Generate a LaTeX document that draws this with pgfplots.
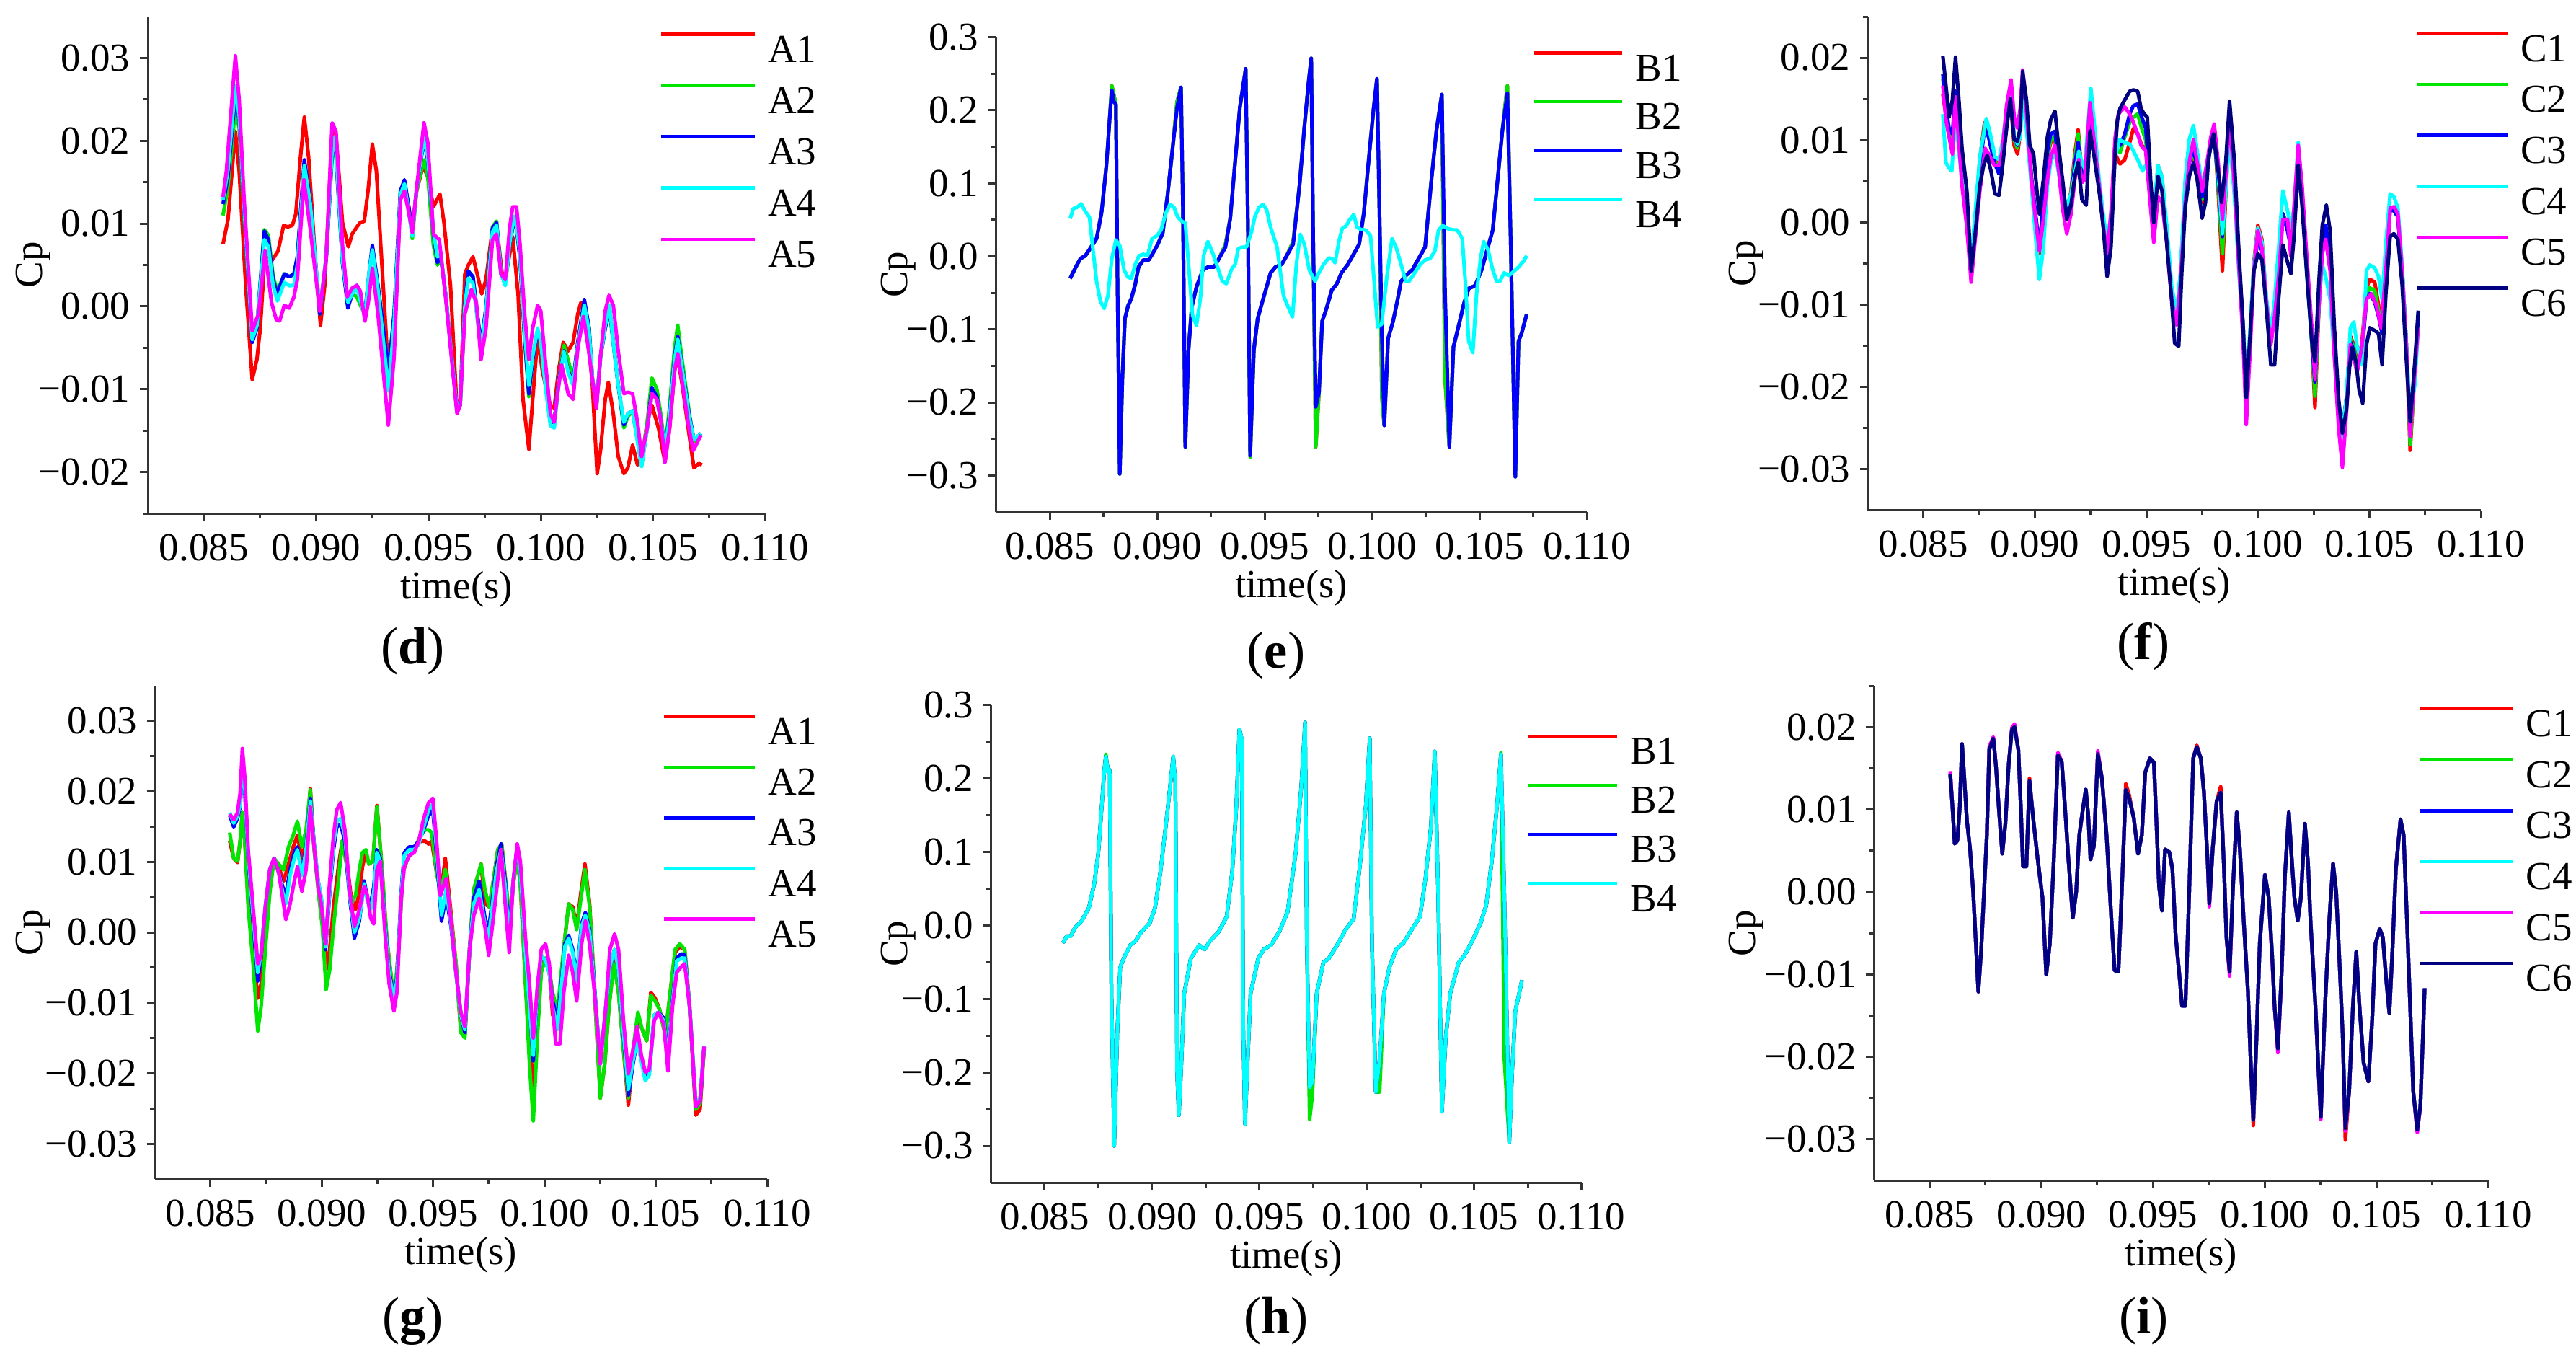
\documentclass[border=0pt]{standalone}
\usepackage{fontspec}
\setmainfont{Liberation Serif}
\usepackage{pgfplots}
\usepackage{pgfplotstable}
\pgfplotsset{compat=1.18}
\definecolor{cR}{RGB}{255,0,0}
\definecolor{cG}{RGB}{0,230,0}
\definecolor{cB}{RGB}{0,0,255}
\definecolor{cC}{RGB}{0,255,255}
\definecolor{cM}{RGB}{255,0,255}
\definecolor{cN}{RGB}{0,0,128}

% ---------------- panel (d) ----------------
\pgfplotstableread{
t v
0.08585 0.00754
0.08607 0.01047
0.08640 0.02114
0.08657 0.01632
0.08686 0.00254
0.08715 -0.00882
0.08736 -0.00641
0.08751 -0.00262
0.08772 0.00668
0.08801 0.00547
0.08830 0.00668
0.08855 0.00978
0.08873 0.00960
0.08894 0.00978
0.08909 0.01115
0.08930 0.01804
0.08947 0.02286
0.08966 0.01804
0.08995 0.00599
0.09019 -0.00228
0.09038 0.00254
0.09071 0.02114
0.09088 0.02080
0.09117 0.01012
0.09143 0.00719
0.09160 0.00874
0.09181 0.00960
0.09196 0.01012
0.09214 0.01029
0.09232 0.01425
0.09250 0.01959
0.09268 0.01632
0.09289 0.00668
0.09318 -0.00641
0.09347 -0.00434
0.09375 0.01322
0.09393 0.01494
0.09411 0.01219
0.09428 0.00943
0.09447 0.01391
0.09476 0.01701
0.09497 0.01563
0.09522 0.01202
0.09551 0.01356
0.09569 0.01012
0.09598 0.00254
0.09627 -0.01261
0.09641 -0.01192
0.09662 0.00392
0.09677 0.00495
0.09698 0.00599
0.09720 0.00358
0.09737 0.00151
0.09756 0.00323
0.09785 0.00943
0.09803 0.00978
0.09828 0.00392
0.09846 0.00392
0.09875 0.00840
0.09899 0.00151
0.09921 -0.01123
0.09947 -0.01726
0.09964 -0.01123
0.09986 -0.00366
0.10007 -0.00779
0.10029 -0.01054
0.10043 -0.01192
0.10060 -0.01227
0.10079 -0.00779
0.10100 -0.00434
0.10122 -0.00538
0.10144 -0.00434
0.10165 -0.00090
0.10179 0.00048
0.10201 -0.00090
0.10230 -0.00951
0.10251 -0.02019
0.10266 -0.01743
0.10287 -0.01123
0.10301 -0.00917
0.10323 -0.01295
0.10345 -0.01812
0.10370 -0.02019
0.10388 -0.01950
0.10409 -0.01674
0.10431 -0.01915
0.10452 -0.01812
0.10474 -0.01399
0.10495 -0.01192
0.10524 -0.01468
0.10553 -0.01881
0.10574 -0.01468
0.10596 -0.00779
0.10610 -0.00607
0.10632 -0.00985
0.10660 -0.01536
0.10682 -0.01950
0.10704 -0.01898
0.10718 -0.01915
}\dAone

\pgfplotstableread{
t a2 a3 a4
0.08585 0.01098 0.01236 0.01288
0.08607 0.01450 0.01563 0.01650
0.08640 0.02390 0.02562 0.02665
0.08657 0.02150 0.02252 0.02300
0.08679 0.01100 0.01150 0.01200
0.08715 -0.00400 -0.00434 -0.00400
0.08736 -0.00230 -0.00262 -0.00230
0.08769 0.00926 0.00909 0.00805
0.08787 0.00857 0.00805 0.00720
0.08808 0.00358 0.00323 0.00250
0.08827 0.00186 0.00151 0.00065
0.08858 0.00392 0.00392 0.00290
0.08880 0.00358 0.00358 0.00250
0.08901 0.00392 0.00392 0.00254
0.08916 0.00599 0.00599 0.00500
0.08947 0.01700 0.01770 0.01700
0.08973 0.01250 0.01288 0.01250
0.09016 -0.00090 -0.00090 -0.00050
0.09045 0.00599 0.00599 0.00620
0.09074 0.01950 0.02011 0.02045
0.09088 0.01800 0.01839 0.01880
0.09117 0.00530 0.00530 0.00560
0.09141 0.00030 -0.00021 0.00048
0.09160 0.00151 0.00151 0.00151
0.09181 0.00117 0.00254 0.00220
0.09199 0.00000 0.00048 0.00048
0.09217 -0.00090 -0.00090 -0.00120
0.09235 0.00350 0.00392 0.00392
0.09250 0.00700 0.00737 0.00680
0.09275 0.00254 0.00254 0.00200
0.09322 -0.00779 -0.00779 -0.01020
0.09347 -0.00090 -0.00090 -0.00200
0.09375 0.01391 0.01391 0.01350
0.09393 0.01500 0.01529 0.01480
0.09411 0.01219 0.01219 0.01150
0.09428 0.00820 0.00874 0.00850
0.09447 0.01400 0.01425 0.01425
0.09480 0.01770 0.02011 0.02045
0.09497 0.01563 0.01770 0.01800
0.09522 0.00737 0.00874 0.00900
0.09540 0.00500 0.00530 0.00599
0.09555 0.00599 0.00599 0.00630
0.09576 0.00151 0.00151 0.00151
0.09627 -0.01261 -0.01261 -0.01261
0.09641 -0.01192 -0.01192 -0.01192
0.09662 0.00048 0.00048 0.00000
0.09677 0.00427 0.00427 0.00340
0.09698 0.00358 0.00358 0.00280
0.09734 -0.00469 -0.00469 -0.00520
0.09756 -0.00021 -0.00021 -0.00060
0.09785 0.00960 0.00943 0.00900
0.09803 0.01030 0.01012 0.00980
0.09823 0.00392 0.00392 0.00392
0.09842 0.00289 0.00289 0.00250
0.09861 0.00737 0.00737 0.00760
0.09881 0.01030 0.01064 0.01090
0.09892 0.00943 0.00943 0.00970
0.09907 0.00599 0.00599 0.00650
0.09928 -0.00400 -0.00366 -0.00300
0.09947 -0.01089 -0.01054 -0.00951
0.09964 -0.00641 -0.00641 -0.00600
0.09986 -0.00297 -0.00297 -0.00262
0.10000 -0.00434 -0.00434 -0.00434
0.10022 -0.00951 -0.00951 -0.01000
0.10043 -0.01399 -0.01399 -0.01440
0.10060 -0.01399 -0.01399 -0.01468
0.10079 -0.00917 -0.00917 -0.00950
0.10103 -0.00469 -0.00538 -0.00550
0.10122 -0.00650 -0.00779 -0.00800
0.10144 -0.00880 -0.00917 -0.00950
0.10165 -0.00434 -0.00434 -0.00470
0.10194 0.00048 0.00082 0.00013
0.10215 -0.00262 -0.00262 -0.00300
0.10230 -0.00882 -0.00882 -0.00882
0.10248 -0.01192 -0.01192 -0.01192
0.10266 -0.00607 -0.00607 -0.00607
0.10287 -0.00262 -0.00262 -0.00230
0.10306 -0.00050 -0.00021 0.00013
0.10323 -0.00434 -0.00434 -0.00434
0.10345 -0.00951 -0.00951 -0.00951
0.10370 -0.01468 -0.01433 -0.01399
0.10388 -0.01330 -0.01295 -0.01295
0.10409 -0.01261 -0.01261 -0.01261
0.10431 -0.01605 -0.01605 -0.01640
0.10449 -0.01881 -0.01915 -0.01933
0.10474 -0.01399 -0.01468 -0.01468
0.10495 -0.00864 -0.00985 -0.01054
0.10517 -0.01000 -0.01089 -0.01123
0.10536 -0.01330 -0.01399 -0.01399
0.10553 -0.01743 -0.01743 -0.01743
0.10574 -0.01200 -0.01295 -0.01330
0.10596 -0.00500 -0.00607 -0.00650
0.10610 -0.00228 -0.00366 -0.00400
0.10632 -0.00700 -0.00779 -0.00800
0.10660 -0.01261 -0.01295 -0.01330
0.10682 -0.01640 -0.01605 -0.01605
0.10714 -0.01536 -0.01536 -0.01536
}\dGrp

\pgfplotstableread{
t v
0.08585 0.01322
0.08600 0.01632
0.08640 0.03027
0.08657 0.02493
0.08679 0.01288
0.08715 -0.00297
0.08743 -0.00090
0.08772 0.00668
0.08801 0.00048
0.08822 -0.00159
0.08837 -0.00176
0.08858 0.00013
0.08880 -0.00021
0.08901 0.00117
0.08916 0.00323
0.08945 0.01529
0.08973 0.00943
0.09016 -0.00056
0.09045 0.00599
0.09071 0.02217
0.09088 0.02114
0.09117 0.00737
0.09138 0.00117
0.09160 0.00220
0.09181 0.00254
0.09196 0.00186
0.09217 -0.00176
0.09232 0.00048
0.09250 0.00461
0.09275 -0.00090
0.09321 -0.01433
0.09347 -0.00607
0.09375 0.01288
0.09393 0.01391
0.09411 0.01150
0.09428 0.00892
0.09447 0.01425
0.09480 0.02217
0.09497 0.01976
0.09522 0.00874
0.09548 0.00805
0.09576 0.00117
0.09627 -0.01295
0.09641 -0.01192
0.09662 -0.00090
0.09691 0.00203
0.09713 0.00048
0.09734 -0.00641
0.09756 -0.00262
0.09785 0.00805
0.09803 0.00874
0.09823 0.00392
0.09842 0.00323
0.09861 0.00943
0.09875 0.01202
0.09892 0.01202
0.09907 0.00771
0.09928 -0.00090
0.09947 -0.00641
0.09964 -0.00262
0.09986 0.00013
0.10000 -0.00056
0.10022 -0.00710
0.10043 -0.01295
0.10060 -0.01399
0.10075 -0.01054
0.10093 -0.00710
0.10122 -0.01054
0.10144 -0.01123
0.10165 -0.00503
0.10190 -0.00124
0.10208 -0.00434
0.10230 -0.00882
0.10248 -0.01227
0.10266 -0.00607
0.10287 -0.00056
0.10304 0.00134
0.10323 0.00013
0.10345 -0.00538
0.10370 -0.01054
0.10388 -0.01037
0.10409 -0.01054
0.10431 -0.01399
0.10449 -0.01812
0.10474 -0.01468
0.10495 -0.01054
0.10517 -0.01123
0.10536 -0.01399
0.10553 -0.01881
0.10574 -0.01468
0.10596 -0.00779
0.10610 -0.00572
0.10632 -0.00951
0.10660 -0.01468
0.10679 -0.01743
0.10704 -0.01605
0.10714 -0.01554
}\dAfive

% ---------------- panel (e) ----------------
\pgfplotstableread{
t b2 b3
0.08595 -0.0304 -0.0304
0.08621 -0.0148 -0.0148
0.08643 -0.0031 -0.0031
0.08666 0.0008 0.0008
0.08688 0.0106 0.0106
0.08718 0.0243 0.0243
0.08741 0.0594 0.0594
0.08763 0.1219 0.1219
0.08778 0.1844 0.1844
0.08789 0.2332 0.2273
0.08799 0.2200 0.2117
0.08808 0.2078 0.2078
0.08816 -0.0500 -0.0500
0.08826 -0.2979 -0.2979
0.08838 -0.1671 -0.1671
0.08850 -0.0851 -0.0851
0.08865 -0.0675 -0.0675
0.08880 -0.0578 -0.0578
0.08898 -0.0383 -0.0383
0.08913 -0.0148 -0.0148
0.08936 -0.0050 -0.0050
0.08961 -0.0050 -0.0050
0.08981 0.0047 0.0047
0.09003 0.0164 0.0164
0.09026 0.0321 0.0321
0.09048 0.0828 0.0828
0.09071 0.1453 0.1453
0.09093 0.2120 0.2039
0.09111 0.2312 0.2312
0.09120 0.0672 0.0672
0.09131 -0.2608 -0.2608
0.09146 -0.1281 -0.1281
0.09161 -0.0695 -0.0695
0.09183 -0.0421 -0.0421
0.09213 -0.0187 -0.0187
0.09236 -0.0148 -0.0148
0.09265 -0.0148 -0.0148
0.09288 -0.0031 -0.0031
0.09318 0.0160 0.0125
0.09340 0.0516 0.0516
0.09363 0.1297 0.1297
0.09385 0.2039 0.2039
0.09412 0.2566 0.2566
0.09423 0.0282 0.0282
0.09433 -0.2745 -0.2725
0.09450 -0.1281 -0.1281
0.09468 -0.0851 -0.0851
0.09490 -0.0617 -0.0617
0.09513 -0.0383 -0.0383
0.09528 -0.0226 -0.0226
0.09550 -0.0148 -0.0148
0.09580 -0.0109 -0.0109
0.09603 0.0008 0.0008
0.09633 0.0200 0.0164
0.09663 0.0984 0.0984
0.09685 0.1765 0.1765
0.09705 0.2390 0.2390
0.09717 0.2710 0.2710
0.09726 0.0282 0.0282
0.09738 -0.2608 -0.2062
0.09753 -0.1866 -0.1866
0.09768 -0.0890 -0.0890
0.09790 -0.0695 -0.0695
0.09813 -0.0460 -0.0460
0.09835 -0.0383 -0.0383
0.09858 -0.0226 -0.0226
0.09888 -0.0109 -0.0109
0.09918 0.0047 0.0047
0.09940 0.0164 0.0164
0.09962 0.0594 0.0594
0.09985 0.1336 0.1336
0.10008 0.2039 0.2039
0.10023 0.2429 0.2429
0.10038 0.0086 0.0086
0.10046 -0.1925 -0.1100
0.10057 -0.2315 -0.2315
0.10075 -0.1124 -0.1124
0.10098 -0.0890 -0.0890
0.10120 -0.0578 -0.0578
0.10135 -0.0343 -0.0343
0.10157 -0.0265 -0.0265
0.10187 -0.0187 -0.0187
0.10217 -0.0031 -0.0031
0.10247 0.0125 0.0125
0.10277 0.1063 0.1063
0.10300 0.1726 0.1726
0.10325 0.2214 0.2214
0.10340 -0.1671 -0.0500
0.10360 -0.2608 -0.2608
0.10379 -0.1241 -0.1241
0.10405 -0.0929 -0.0929
0.10427 -0.0656 -0.0656
0.10450 -0.0441 -0.0441
0.10480 -0.0402 -0.0402
0.10510 -0.0187 -0.0187
0.10532 0.0047 0.0047
0.10562 0.0360 0.0360
0.10585 0.1063 0.1063
0.10607 0.1726 0.1726
0.10630 0.2332 0.2234
0.10645 0.0282 0.0282
0.10667 -0.3018 -0.3018
0.10682 -0.1163 -0.1163
0.10697 -0.1046 -0.1046
0.10720 -0.0792 -0.0792
}\eGrp

\pgfplotstableread{
t v
0.08595 0.0516
0.08610 0.0653
0.08628 0.0672
0.08646 0.0719
0.08666 0.0613
0.08685 0.0535
0.08703 0.0047
0.08718 -0.0343
0.08736 -0.0617
0.08753 -0.0714
0.08771 -0.0539
0.08789 -0.0031
0.08808 0.0223
0.08826 0.0145
0.08846 -0.0187
0.08864 -0.0285
0.08880 -0.0304
0.08898 -0.0109
0.08916 0.0008
0.08936 0.0028
0.08955 0.0008
0.08976 0.0243
0.09000 0.0282
0.09018 0.0360
0.09041 0.0594
0.09060 0.0711
0.09078 0.0672
0.09096 0.0535
0.09116 0.0477
0.09131 0.0457
0.09146 -0.0109
0.09165 -0.0812
0.09183 -0.0949
0.09201 -0.0578
0.09216 0.0008
0.09236 0.0203
0.09258 0.0047
0.09281 -0.0148
0.09303 -0.0343
0.09322 -0.0375
0.09345 -0.0187
0.09363 -0.0109
0.09378 0.0106
0.09396 0.0125
0.09415 0.0125
0.09438 0.0321
0.09456 0.0555
0.09475 0.0672
0.09493 0.0711
0.09510 0.0633
0.09528 0.0399
0.09558 0.0125
0.09588 -0.0539
0.09610 -0.0695
0.09630 -0.0832
0.09648 -0.0109
0.09666 0.0301
0.09685 0.0164
0.09708 -0.0187
0.09735 -0.0343
0.09753 -0.0226
0.09775 -0.0109
0.09798 -0.0023
0.09813 -0.0031
0.09828 -0.0089
0.09846 0.0203
0.09861 0.0379
0.09880 0.0418
0.09895 0.0496
0.09915 0.0574
0.09930 0.0399
0.09947 0.0368
0.09970 0.0360
0.09993 0.0282
0.10011 -0.0383
0.10026 -0.0968
0.10045 -0.0929
0.10068 -0.0304
0.10093 0.0243
0.10112 0.0125
0.10135 -0.0109
0.10157 -0.0343
0.10172 -0.0343
0.10199 -0.0226
0.10225 -0.0109
0.10247 -0.0050
0.10270 -0.0031
0.10292 0.0067
0.10310 0.0360
0.10330 0.0418
0.10352 0.0379
0.10379 0.0360
0.10397 0.0360
0.10420 0.0243
0.10435 -0.0383
0.10450 -0.1163
0.10469 -0.1320
0.10487 -0.0500
0.10505 -0.0031
0.10520 0.0203
0.10540 0.0086
0.10562 -0.0187
0.10580 -0.0343
0.10595 -0.0343
0.10615 -0.0226
0.10637 -0.0265
0.10660 -0.0207
0.10682 -0.0148
0.10705 -0.0070
0.10720 0.0008
}\eBfour

% ---------------- panel (f) ----------------
\pgfplotstableread{
t c1 c2 c3
0.08587 0.01557 0.01750 0.01800
0.08601 0.01300 0.01350 0.01384
0.08615 0.01073 0.01100 0.01142
0.08630 0.00969 0.01000 0.01073
0.08644 0.01523 0.01550 0.01592
0.08659 0.01038 0.01073 0.01107
0.08673 0.00553 0.00553 0.00553
0.08695 0.00034 0.00034 0.00034
0.08714 -0.00520 -0.00520 -0.00520
0.08731 0.00000 0.00000 -0.00036
0.08753 0.00761 0.00726 0.00657
0.08774 0.01211 0.01176 0.01142
0.08792 0.01142 0.01107 0.01038
0.08818 0.00795 0.00761 0.00726
0.08839 0.00657 0.00622 0.00588
0.08854 0.00830 0.00830 0.00795
0.08873 0.01280 0.01280 0.01280
0.08890 0.01488 0.01523 0.01523
0.08907 0.00934 0.01000 0.01038
0.08922 0.00830 0.00899 0.00934
0.08934 0.01073 0.01142 0.01142
0.08945 0.01765 0.01765 0.01765
0.08962 0.01315 0.01315 0.01315
0.08984 0.00553 0.00553 0.00553
0.09003 0.00034 0.00068 0.00103
0.09020 -0.00382 -0.00347 -0.00313
0.09038 0.00241 0.00241 0.00241
0.09056 0.00795 0.00830 0.00865
0.09071 0.00969 0.01000 0.01073
0.09090 0.01000 0.01038 0.01107
0.09107 0.00622 0.00657 0.00692
0.09124 0.00241 0.00276 0.00311
0.09143 0.00068 0.00068 0.00068
0.09162 0.00380 0.00345 0.00311
0.09179 0.00830 0.00761 0.00692
0.09194 0.01124 0.01073 0.00969
0.09211 0.00553 0.00553 0.00553
0.09223 0.00518 0.00518 0.00518
0.09247 0.01315 0.01315 0.01315
0.09266 0.00969 0.00969 0.00969
0.09288 0.00449 0.00449 0.00449
0.09306 -0.00036 -0.00036 -0.00036
0.09324 -0.00451 -0.00451 -0.00451
0.09341 0.00034 0.00034 0.00034
0.09360 0.00830 0.00900 0.00969
0.09382 0.00709 0.00847 0.00934
0.09403 0.00761 0.01038 0.01073
0.09425 0.00969 0.01211 0.01315
0.09442 0.01142 0.01280 0.01419
0.09461 0.01073 0.01315 0.01436
0.09479 0.00934 0.01142 0.01280
0.09497 0.00900 0.01000 0.01142
0.09519 0.00380 0.00380 0.00380
0.09533 0.00034 0.00034 0.00034
0.09552 0.00692 0.00657 0.00622
0.09570 0.00553 0.00518 0.00484
0.09591 -0.00105 -0.00140 -0.00174
0.09613 -0.00867 -0.00867 -0.00867
0.09635 -0.01178 -0.01178 -0.01178
0.09653 -0.00659 -0.00659 -0.00659
0.09674 0.00449 0.00414 0.00380
0.09692 0.00830 0.00795 0.00726
0.09711 0.00795 0.00830 0.00899
0.09728 0.00588 0.00622 0.00657
0.09750 0.00241 0.00276 0.00311
0.09772 0.00588 0.00622 0.00657
0.09789 0.01000 0.00969 0.00934
0.09804 0.01107 0.01073 0.01038
0.09822 0.00380 0.00449 0.00518
0.09841 -0.00590 -0.00382 -0.00174
0.09856 0.00345 0.00414 0.00484
0.09873 0.01280 0.01280 0.01280
0.09895 0.00553 0.00553 0.00553
0.09916 -0.00520 -0.00520 -0.00520
0.09934 -0.01282 -0.01282 -0.01282
0.09948 -0.02182 -0.02182 -0.02182
0.09967 -0.01282 -0.01282 -0.01282
0.09982 -0.00486 -0.00520 -0.00555
0.10000 -0.00036 -0.00140 -0.00209
0.10018 -0.00209 -0.00313 -0.00347
0.10039 -0.01005 -0.01005 -0.01005
0.10058 -0.01455 -0.01455 -0.01455
0.10075 -0.01109 -0.01109 -0.01109
0.10093 -0.00451 -0.00451 -0.00451
0.10112 0.00103 0.00103 0.00103
0.10133 -0.00036 -0.00070 -0.00105
0.10148 -0.00244 -0.00278 -0.00313
0.10162 0.00034 0.00034 0.00034
0.10181 0.00795 0.00795 0.00795
0.10198 0.00311 0.00311 0.00311
0.10220 -0.00590 -0.00590 -0.00590
0.10242 -0.01455 -0.01455 -0.01455
0.10256 -0.02252 -0.02113 -0.01940
0.10275 -0.00936 -0.00936 -0.00936
0.10289 -0.00313 -0.00313 -0.00313
0.10304 -0.00105 -0.00070 -0.00036
0.10324 -0.00382 -0.00382 -0.00382
0.10343 -0.01455 -0.01455 -0.01455
0.10362 -0.02252 -0.02252 -0.02252
0.10379 -0.02529 -0.02529 -0.02529
0.10397 -0.02148 -0.02148 -0.02148
0.10415 -0.01386 -0.01420 -0.01455
0.10430 -0.01490 -0.01524 -0.01559
0.10444 -0.01697 -0.01732 -0.01801
0.10466 -0.01490 -0.01559 -0.01628
0.10487 -0.00798 -0.00867 -0.00936
0.10502 -0.00694 -0.00798 -0.00867
0.10524 -0.00728 -0.00832 -0.00971
0.10541 -0.01005 -0.01074 -0.01143
0.10557 -0.01351 -0.01351 -0.01351
0.10574 -0.00590 -0.00590 -0.00590
0.10593 0.00172 0.00172 0.00172
0.10610 0.00138 0.00138 0.00138
0.10628 0.00068 0.00068 0.00068
0.10647 -0.00590 -0.00590 -0.00590
0.10665 -0.01455 -0.01455 -0.01455
0.10683 -0.02771 -0.02702 -0.02529
0.10704 -0.01801 -0.01801 -0.01801
0.10719 -0.01143 -0.01143 -0.01143
}\fGrp

\pgfplotstableread{
t v
0.08587 0.01315
0.08601 0.00726
0.08615 0.00657
0.08627 0.00622
0.08644 0.01280
0.08659 0.00865
0.08673 0.00518
0.08695 0.00103
0.08714 -0.00451
0.08731 0.00068
0.08753 0.00795
0.08782 0.01263
0.08800 0.01073
0.08821 0.00795
0.08839 0.00761
0.08854 0.00969
0.08873 0.01349
0.08890 0.01592
0.08907 0.01038
0.08922 0.00951
0.08934 0.01038
0.08945 0.01488
0.08962 0.01142
0.08984 0.00449
0.09003 -0.00174
0.09020 -0.00694
0.09038 -0.00313
0.09056 0.00449
0.09071 0.00726
0.09090 0.00865
0.09107 0.00588
0.09129 0.00241
0.09143 0.00207
0.09162 0.00345
0.09179 0.00588
0.09197 0.00865
0.09211 0.00726
0.09223 0.00657
0.09251 0.01626
0.09266 0.01211
0.09288 0.00518
0.09306 0.00103
0.09324 -0.00244
0.09341 0.00103
0.09360 0.00795
0.09379 0.01003
0.09403 0.00969
0.09425 0.00951
0.09442 0.00865
0.09461 0.00761
0.09483 0.00622
0.09504 0.00726
0.09519 0.00380
0.09533 0.00103
0.09552 0.00692
0.09570 0.00553
0.09591 -0.00036
0.09613 -0.00763
0.09635 -0.01109
0.09653 -0.00590
0.09674 0.00518
0.09692 0.01003
0.09711 0.01176
0.09728 0.00865
0.09750 0.00414
0.09772 0.00726
0.09789 0.01003
0.09804 0.01142
0.09822 0.00588
0.09841 -0.00140
0.09856 0.00380
0.09873 0.01038
0.09895 0.00311
0.09916 -0.00659
0.09934 -0.01282
0.09948 -0.02044
0.09967 -0.01213
0.09982 -0.00520
0.10000 -0.00070
0.10018 -0.00243
0.10039 -0.00936
0.10058 -0.01351
0.10075 -0.00936
0.10093 -0.00313
0.10112 0.00380
0.10133 0.00138
0.10148 -0.00070
0.10162 0.00172
0.10181 0.00969
0.10198 0.00380
0.10220 -0.00659
0.10242 -0.01455
0.10256 -0.01697
0.10275 -0.00936
0.10289 -0.00520
0.10304 -0.00659
0.10324 -0.00936
0.10343 -0.01628
0.10362 -0.02252
0.10379 -0.02598
0.10397 -0.02113
0.10415 -0.01282
0.10430 -0.01213
0.10444 -0.01490
0.10466 -0.01732
0.10487 -0.00590
0.10502 -0.00520
0.10524 -0.00555
0.10541 -0.00659
0.10557 -0.00936
0.10574 -0.00244
0.10593 0.00345
0.10610 0.00311
0.10628 0.00172
0.10647 -0.00520
0.10665 -0.01455
0.10683 -0.02321
0.10704 -0.01975
0.10719 -0.01282
}\fCfour

\pgfplotstableread{
t v
0.08587 0.01661
0.08601 0.01246
0.08615 0.01038
0.08630 0.00830
0.08644 0.01523
0.08659 0.00969
0.08673 0.00449
0.08695 -0.00070
0.08714 -0.00728
0.08731 -0.00243
0.08753 0.00380
0.08777 0.00899
0.08796 0.00813
0.08818 0.00692
0.08839 0.00692
0.08854 0.00865
0.08873 0.01419
0.08893 0.01730
0.08907 0.01280
0.08922 0.01142
0.08934 0.01384
0.08945 0.01851
0.08962 0.01349
0.08984 0.00518
0.09003 0.00034
0.09020 -0.00347
0.09038 0.00034
0.09056 0.00518
0.09071 0.00795
0.09090 0.00934
0.09107 0.00622
0.09124 0.00172
0.09143 -0.00140
0.09162 0.00103
0.09179 0.00518
0.09197 0.00761
0.09211 0.00484
0.09223 0.00518
0.09247 0.01453
0.09266 0.00969
0.09288 0.00449
0.09306 -0.00036
0.09324 -0.00382
0.09341 0.00103
0.09360 0.01038
0.09374 0.01315
0.09403 0.01401
0.09425 0.01315
0.09442 0.01211
0.09461 0.01073
0.09476 0.00934
0.09497 0.00865
0.09519 0.00172
0.09533 -0.00244
0.09552 0.00311
0.09570 0.00241
0.09591 -0.00244
0.09613 -0.00936
0.09635 -0.01247
0.09653 -0.00728
0.09674 0.00241
0.09692 0.00726
0.09711 0.01003
0.09728 0.00726
0.09750 0.00380
0.09772 0.00726
0.09789 0.01038
0.09804 0.01194
0.09822 0.00726
0.09841 0.00034
0.09856 0.00553
0.09873 0.01280
0.09895 0.00449
0.09916 -0.00590
0.09934 -0.01455
0.09948 -0.02459
0.09967 -0.01455
0.09982 -0.00590
0.10000 -0.00105
0.10018 -0.00313
0.10039 -0.01005
0.10058 -0.01490
0.10075 -0.01143
0.10093 -0.00659
0.10112 0.00034
0.10133 0.00034
0.10148 -0.00416
0.10162 0.00172
0.10181 0.00934
0.10198 0.00449
0.10220 -0.00451
0.10242 -0.01282
0.10256 -0.01905
0.10275 -0.00936
0.10289 -0.00382
0.10304 -0.00209
0.10324 -0.00590
0.10343 -0.01628
0.10362 -0.02494
0.10379 -0.02979
0.10397 -0.02321
0.10415 -0.01490
0.10430 -0.01628
0.10444 -0.01836
0.10466 -0.01524
0.10487 -0.00936
0.10509 -0.00867
0.10531 -0.01005
0.10553 -0.01282
0.10574 -0.00590
0.10593 0.00172
0.10610 0.00189
0.10628 0.00103
0.10647 -0.00590
0.10665 -0.01455
0.10683 -0.02598
0.10704 -0.01801
0.10719 -0.01282
}\fCfive

\pgfplotstableread{
t v
0.08587 0.02025
0.08601 0.01661
0.08615 0.01280
0.08630 0.01488
0.08644 0.02007
0.08659 0.01488
0.08673 0.00899
0.08695 0.00380
0.08714 -0.00590
0.08731 -0.00174
0.08753 0.00449
0.08770 0.00692
0.08786 0.00813
0.08803 0.00622
0.08821 0.00345
0.08839 0.00328
0.08854 0.00657
0.08873 0.01142
0.08890 0.01505
0.08907 0.01003
0.08922 0.00986
0.08934 0.01142
0.08945 0.01834
0.08962 0.01488
0.08977 0.00934
0.08994 0.00830
0.09009 0.00380
0.09020 0.00103
0.09038 0.00518
0.09056 0.01038
0.09071 0.01245
0.09090 0.01349
0.09107 0.00899
0.09124 0.00518
0.09143 0.00034
0.09162 0.00207
0.09179 0.00553
0.09194 0.00726
0.09211 0.00276
0.09230 0.00207
0.09247 0.01107
0.09266 0.00795
0.09288 0.00380
0.09306 -0.00036
0.09324 -0.00659
0.09341 -0.00313
0.09360 0.00865
0.09370 0.01245
0.09382 0.01384
0.09403 0.01488
0.09425 0.01592
0.09442 0.01609
0.09461 0.01592
0.09476 0.01384
0.09490 0.01315
0.09504 0.01280
0.09519 0.00518
0.09533 -0.00001
0.09552 0.00553
0.09570 0.00380
0.09591 -0.00244
0.09613 -0.00936
0.09627 -0.01472
0.09645 -0.01507
0.09659 -0.00590
0.09674 0.00172
0.09692 0.00553
0.09711 0.00726
0.09728 0.00518
0.09750 0.00051
0.09765 0.00241
0.09779 0.00795
0.09801 0.01073
0.09818 0.00726
0.09837 0.00241
0.09856 0.00726
0.09873 0.01471
0.09895 0.00726
0.09916 -0.00416
0.09934 -0.01282
0.09948 -0.02130
0.09967 -0.01282
0.09982 -0.00590
0.10000 -0.00382
0.10018 -0.00451
0.10039 -0.01074
0.10058 -0.01732
0.10075 -0.01732
0.10093 -0.00936
0.10112 -0.00278
0.10133 -0.00486
0.10148 -0.00624
0.10162 -0.00174
0.10181 0.00692
0.10198 0.00207
0.10220 -0.00659
0.10242 -0.01455
0.10256 -0.01697
0.10275 -0.00659
0.10289 -0.00036
0.10307 0.00207
0.10324 -0.00105
0.10343 -0.01282
0.10362 -0.02148
0.10379 -0.02563
0.10397 -0.02286
0.10411 -0.01767
0.10422 -0.01524
0.10440 -0.01697
0.10454 -0.02044
0.10470 -0.02200
0.10487 -0.01490
0.10502 -0.01282
0.10524 -0.01317
0.10541 -0.01351
0.10557 -0.01732
0.10574 -0.00867
0.10593 -0.00174
0.10610 -0.00140
0.10628 -0.00209
0.10647 -0.00763
0.10665 -0.01628
0.10683 -0.02425
0.10704 -0.01697
0.10719 -0.01074
}\fCsix

% ---------------- panel (g) ----------------
\pgfplotstableread{
t a1 a2
0.08587 0.01295 0.01416
0.08605 0.01051 0.01051
0.08622 0.00991 0.01011
0.08634 0.01294 0.01294
0.08644 0.01699 0.01699
0.08655 0.01294 0.01294
0.08670 0.00444 0.00363
0.08692 -0.00244 -0.00447
0.08713 -0.00932 -0.01398
0.08728 -0.00730 -0.01054
0.08747 -0.00082 -0.00244
0.08767 0.00606 0.00566
0.08786 0.01051 0.01051
0.08807 0.00930 0.00970
0.08829 0.00727 0.00889
0.08851 0.00970 0.01213
0.08872 0.01213 0.01375
0.08891 0.01375 0.01578
0.08911 0.01051 0.01213
0.08930 0.01294 0.01456
0.08949 0.02043 0.02023
0.08966 0.01213 0.01173
0.08988 0.00566 0.00485
0.09003 0.00161 0.00080
0.09020 -0.00528 -0.00811
0.09036 -0.00244 -0.00528
0.09053 0.00363 0.00080
0.09075 0.00930 0.00727
0.09092 0.01294 0.01294
0.09111 0.01051 0.00970
0.09133 0.00485 0.00404
0.09152 0.00323 0.00525
0.09169 0.00566 0.00889
0.09183 0.00930 0.01132
0.09198 0.01132 0.01173
0.09212 0.00970 0.00970
0.09230 0.01011 0.01011
0.09248 0.01800 0.01780
0.09270 0.00930 0.00930
0.09292 -0.00082 -0.00082
0.09314 -0.00690 -0.00690
0.09328 -0.00937 -0.00937
0.09345 -0.00244 -0.00244
0.09364 0.00849 0.00849
0.09386 0.01051 0.01051
0.09415 0.01173 0.01173
0.09444 0.01294 0.01375
0.09465 0.01294 0.01456
0.09480 0.01254 0.01456
0.09494 0.01294 0.01416
0.09516 0.00849 0.00849
0.09535 0.00566 0.00566
0.09555 0.01051 0.00890
0.09574 0.00485 0.00404
0.09603 -0.00447 -0.00447
0.09625 -0.01418 -0.01418
0.09643 -0.01459 -0.01499
0.09664 -0.00244 -0.00244
0.09683 0.00606 0.00606
0.09716 0.00970 0.00970
0.09733 0.00404 0.00606
0.09752 0.00363 0.00363
0.09769 0.00687 0.00687
0.09791 0.01173 0.01173
0.09808 0.01254 0.01254
0.09827 0.00687 0.00687
0.09846 0.00120 0.00120
0.09860 0.00687 0.00687
0.09878 0.01051 0.01051
0.09892 0.00687 0.00687
0.09914 -0.00649 -0.00649
0.09933 -0.01661 -0.01864
0.09950 -0.02188 -0.02674
0.09969 -0.01297 -0.01459
0.09986 -0.00487 -0.00568
0.10005 -0.00366 -0.00366
0.10022 -0.00528 -0.00528
0.10037 -0.01175 -0.00852
0.10059 -0.01175 -0.01135
0.10073 -0.00730 -0.00649
0.10092 -0.00082 -0.00082
0.10109 0.00404 0.00404
0.10127 0.00363 0.00323
0.10145 0.00080 0.00039
0.10164 0.00566 0.00485
0.10182 0.00970 0.00890
0.10203 0.00404 0.00363
0.10222 -0.00649 -0.00649
0.10251 -0.02350 -0.02350
0.10271 -0.01864 -0.01864
0.10290 -0.01054 -0.01054
0.10312 -0.00406 -0.00447
0.10333 -0.00852 -0.00852
0.10355 -0.01661 -0.01661
0.10377 -0.02451 -0.02350
0.10398 -0.01742 -0.01661
0.10420 -0.01216 -0.01135
0.10439 -0.01378 -0.01378
0.10459 -0.01540 -0.01540
0.10478 -0.00852 -0.00892
0.10497 -0.00933 -0.00973
0.10517 -0.01094 -0.01094
0.10543 -0.01459 -0.01459
0.10565 -0.00852 -0.00852
0.10587 -0.00285 -0.00244
0.10608 -0.00203 -0.00163
0.10630 -0.00244 -0.00244
0.10652 -0.01054 -0.01054
0.10680 -0.02593 -0.02512
0.10699 -0.02512 -0.02431
0.10717 -0.01661 -0.01661
}\gGrpA

\pgfplotstableread{
t a3 a4
0.08587 0.01659 0.01700
0.08605 0.01497 0.01550
0.08622 0.01618 0.01650
0.08634 0.01780 0.01820
0.08644 0.02388 0.02450
0.08655 0.01983 0.02050
0.08670 0.01051 0.01092
0.08692 0.00161 0.00242
0.08713 -0.00690 -0.00568
0.08728 -0.00325 -0.00285
0.08747 0.00363 0.00363
0.08767 0.00889 0.00889
0.08786 0.01051 0.01051
0.08807 0.00849 0.00849
0.08825 0.00646 0.00566
0.08839 0.00525 0.00404
0.08858 0.00889 0.00808
0.08877 0.01132 0.01051
0.08891 0.01213 0.01173
0.08911 0.00849 0.00808
0.08930 0.01213 0.01173
0.08949 0.01902 0.01861
0.08966 0.01254 0.01254
0.08984 0.00727 0.00727
0.08998 0.00485 0.00485
0.09017 -0.00244 -0.00203
0.09036 0.00566 0.00606
0.09053 0.01173 0.01254
0.09068 0.01497 0.01578
0.09085 0.01537 0.01618
0.09104 0.01294 0.01375
0.09126 0.00485 0.00525
0.09147 -0.00082 0.00000
0.09169 0.00161 0.00201
0.09191 0.00728 0.00687
0.09205 0.00485 0.00444
0.09220 0.00404 0.00323
0.09234 0.00646 0.00566
0.09248 0.01173 0.01132
0.09263 0.01051 0.01011
0.09285 0.00080 0.00039
0.09303 -0.00568 -0.00608
0.09324 -0.00892 -0.00933
0.09338 -0.00649 -0.00690
0.09357 0.00566 0.00525
0.09371 0.01132 0.01092
0.09393 0.01213 0.01173
0.09415 0.01213 0.01173
0.09436 0.01294 0.01254
0.09458 0.01456 0.01497
0.09480 0.01659 0.01740
0.09499 0.01740 0.01821
0.09516 0.01092 0.01173
0.09538 0.00161 0.00242
0.09559 0.00525 0.00606
0.09581 0.00080 0.00120
0.09603 -0.00568 -0.00568
0.09625 -0.01175 -0.01175
0.09643 -0.01418 -0.01378
0.09664 -0.00244 -0.00244
0.09683 0.00485 0.00404
0.09707 0.00727 0.00606
0.09733 0.00201 0.00120
0.09750 0.00039 -0.00082
0.09766 0.00444 0.00363
0.09784 0.00930 0.00849
0.09805 0.01254 0.01173
0.09824 0.00727 0.00646
0.09842 -0.00001 -0.00082
0.09860 0.00727 0.00727
0.09878 0.01213 0.01213
0.09892 0.00889 0.00889
0.09914 -0.00244 -0.00244
0.09933 -0.01054 -0.01054
0.09950 -0.01823 -0.01742
0.09969 -0.00771 -0.00771
0.09986 -0.00325 -0.00325
0.10005 -0.00406 -0.00406
0.10022 -0.00568 -0.00568
0.10037 -0.00973 -0.01054
0.10059 -0.01256 -0.01378
0.10073 -0.00811 -0.00892
0.10092 -0.00163 -0.00203
0.10109 -0.00042 -0.00082
0.10127 -0.00244 -0.00285
0.10145 -0.00649 -0.00690
0.10167 0.00120 0.00080
0.10184 0.00282 0.00242
0.10203 0.00039 -0.00001
0.10225 -0.00777 -0.00811
0.10251 -0.01864 -0.01864
0.10276 -0.01054 -0.01054
0.10294 -0.00487 -0.00487
0.10315 -0.00244 -0.00244
0.10333 -0.00528 -0.00528
0.10355 -0.01459 -0.01418
0.10377 -0.02309 -0.02228
0.10398 -0.01864 -0.01823
0.10416 -0.01540 -0.01540
0.10435 -0.01783 -0.01823
0.10453 -0.02026 -0.02107
0.10471 -0.01985 -0.02026
0.10493 -0.01175 -0.01175
0.10511 -0.01135 -0.01135
0.10536 -0.01216 -0.01256
0.10555 -0.01783 -0.01823
0.10575 -0.00973 -0.01013
0.10594 -0.00366 -0.00406
0.10615 -0.00305 -0.00366
0.10630 -0.00325 -0.00366
0.10652 -0.01054 -0.01054
0.10680 -0.02471 -0.02431
0.10699 -0.02390 -0.02350
0.10717 -0.01621 -0.01621
}\gGrpB

\pgfplotstableread{
t v
0.08587 0.01679
0.08605 0.01598
0.08622 0.01699
0.08634 0.01983
0.08644 0.02610
0.08655 0.02185
0.08670 0.01173
0.08692 0.00363
0.08713 -0.00447
0.08728 -0.00325
0.08747 0.00363
0.08767 0.00889
0.08786 0.01051
0.08807 0.00849
0.08825 0.00485
0.08839 0.00181
0.08858 0.00404
0.08877 0.00727
0.08891 0.00930
0.08911 0.00586
0.08930 0.00889
0.08949 0.01780
0.08966 0.01213
0.08984 0.00646
0.08998 0.00404
0.09017 -0.00163
0.09036 0.00727
0.09053 0.01375
0.09068 0.01740
0.09085 0.01841
0.09104 0.01456
0.09126 0.00566
0.09147 0.00080
0.09169 0.00323
0.09191 0.00646
0.09205 0.00525
0.09220 0.00201
0.09234 0.00120
0.09248 0.00889
0.09263 0.01011
0.09285 -0.00042
0.09303 -0.00730
0.09324 -0.01115
0.09338 -0.00852
0.09357 0.00485
0.09371 0.00930
0.09393 0.01092
0.09415 0.01132
0.09436 0.01294
0.09458 0.01618
0.09480 0.01841
0.09499 0.01902
0.09516 0.01294
0.09533 0.00525
0.09559 0.00768
0.09581 0.00161
0.09603 -0.00568
0.09625 -0.01135
0.09643 -0.01337
0.09664 -0.00244
0.09683 0.00242
0.09707 0.00485
0.09733 0.00080
0.09750 -0.00325
0.09766 0.00080
0.09784 0.00566
0.09805 0.01173
0.09824 0.00404
0.09842 -0.00285
0.09860 0.00727
0.09878 0.01254
0.09892 0.01011
0.09914 -0.00042
0.09933 -0.00730
0.09950 -0.01499
0.09969 -0.00771
0.09986 -0.00244
0.10005 -0.00163
0.10022 -0.00447
0.10037 -0.01054
0.10051 -0.01580
0.10070 -0.01580
0.10087 -0.00852
0.10109 -0.00325
0.10127 -0.00568
0.10145 -0.00973
0.10167 -0.00163
0.10184 0.00161
0.10203 -0.00163
0.10225 -0.00852
0.10251 -0.01864
0.10276 -0.01054
0.10294 -0.00244
0.10315 -0.00022
0.10333 -0.00244
0.10355 -0.01256
0.10377 -0.02006
0.10398 -0.01661
0.10416 -0.01337
0.10435 -0.01742
0.10453 -0.01985
0.10471 -0.01945
0.10493 -0.01256
0.10511 -0.01135
0.10536 -0.01297
0.10555 -0.01965
0.10575 -0.01054
0.10594 -0.00568
0.10615 -0.00487
0.10630 -0.00447
0.10652 -0.01054
0.10680 -0.02471
0.10699 -0.02390
0.10717 -0.01621
}\gAfive

% ---------------- panel (h) ----------------
\pgfplotstableread{
t b2 b
0.08585 -0.0239 -0.0239
0.08603 -0.0149 -0.0149
0.08621 -0.0149 -0.0149
0.08642 -0.0030 -0.0030
0.08672 0.0059 0.0059
0.08706 0.0238 0.0238
0.08731 0.0566 0.0566
0.08750 0.0984 0.0984
0.08765 0.1580 0.1580
0.08778 0.2117 0.2117
0.08785 0.2326 0.2296
0.08796 0.2087 0.2087
0.08803 0.2117 0.2117
0.08811 -0.0925 -0.0925
0.08824 -0.3000 -0.3000
0.08839 -0.1402 -0.1402
0.08852 -0.0567 -0.0567
0.08873 -0.0418 -0.0418
0.08899 -0.0269 -0.0269
0.08924 -0.0209 -0.0209
0.08950 -0.0090 -0.0090
0.08989 0.0029 0.0029
0.09014 0.0238 0.0238
0.09040 0.0745 0.0745
0.09073 0.1580 0.1580
0.09099 0.2296 0.2296
0.09109 0.1938 0.1938
0.09117 -0.1998 -0.1998
0.09125 -0.2583 -0.2583
0.09135 -0.1998 -0.1998
0.09150 -0.0925 -0.0925
0.09181 -0.0448 -0.0448
0.09220 -0.0269 -0.0269
0.09245 -0.0328 -0.0328
0.09271 -0.0209 -0.0209
0.09310 -0.0090 -0.0090
0.09348 0.0119 0.0119
0.09374 0.0745 0.0745
0.09392 0.1580 0.1580
0.09407 0.2666 0.2666
0.09418 0.2534 0.2534
0.09425 -0.1402 -0.1402
0.09433 -0.2702 -0.2702
0.09443 -0.1998 -0.1998
0.09459 -0.0925 -0.0925
0.09495 -0.0448 -0.0448
0.09520 -0.0328 -0.0328
0.09554 -0.0269 -0.0269
0.09592 -0.0090 -0.0090
0.09631 0.0179 0.0179
0.09669 0.0984 0.0984
0.09695 0.1878 0.1878
0.09713 0.2761 0.2761
0.09721 -0.0209 -0.0209
0.09734 -0.2642 -0.2207
0.09747 -0.2300 -0.2118
0.09767 -0.0925 -0.0925
0.09798 -0.0507 -0.0507
0.09824 -0.0448 -0.0448
0.09862 -0.0269 -0.0269
0.09901 -0.0060 -0.0060
0.09939 0.0089 0.0089
0.09970 0.0864 0.0864
0.09996 0.1640 0.1640
0.10014 0.2546 0.2546
0.10024 -0.0209 -0.0209
0.10042 -0.2267 -0.2267
0.10060 -0.2267 -0.1819
0.10080 -0.0925 -0.0925
0.10106 -0.0567 -0.0567
0.10137 -0.0328 -0.0328
0.10171 -0.0239 -0.0239
0.10209 -0.0060 -0.0060
0.10248 0.0119 0.0119
0.10273 0.0626 0.0626
0.10299 0.1342 0.1342
0.10317 0.2367 0.2367
0.10333 0.0387 0.0387
0.10350 -0.2535 -0.2535
0.10368 -0.1521 -0.1521
0.10389 -0.0925 -0.0925
0.10428 -0.0507 -0.0507
0.10453 -0.0418 -0.0418
0.10492 -0.0209 -0.0209
0.10530 0.0029 0.0029
0.10556 0.0268 0.0268
0.10582 0.0864 0.0864
0.10607 0.1640 0.1640
0.10625 0.2350 0.2326
0.10641 -0.1819 0.0387
0.10664 -0.2952 -0.2952
0.10677 -0.1998 -0.1998
0.10692 -0.1163 -0.1163
0.10710 -0.0925 -0.0925
0.10723 -0.0746 -0.0746
}\hGrp

% ---------------- panel (i) ----------------
\pgfplotstableread{
t c1 c5 c6
0.08592 0.01431 0.01465 0.01431
0.08602 0.01034 0.01034 0.01034
0.08612 0.00585 0.00585 0.00585
0.08624 0.00620 0.00620 0.00620
0.08635 0.01034 0.01034 0.01034
0.08645 0.01794 0.01794 0.01794
0.08655 0.01379 0.01379 0.01379
0.08667 0.00861 0.00861 0.00861
0.08681 0.00516 0.00516 0.00516
0.08695 -0.00002 -0.00002 -0.00002
0.08707 -0.00624 -0.00624 -0.00624
0.08718 -0.01210 -0.01210 -0.01210
0.08731 -0.00693 -0.00693 -0.00693
0.08746 0.00136 0.00136 0.00136
0.08756 0.00689 0.00689 0.00689
0.08767 0.01725 0.01760 0.01725
0.08785 0.01863 0.01880 0.01863
0.08796 0.01552 0.01552 0.01552
0.08811 0.00965 0.00965 0.00965
0.08825 0.00464 0.00464 0.00464
0.08839 0.00827 0.00827 0.00827
0.08854 0.01552 0.01552 0.01552
0.08868 0.01966 0.01990 0.01966
0.08880 0.02001 0.02036 0.02001
0.08897 0.01725 0.01725 0.01725
0.08908 0.01034 0.01034 0.01034
0.08918 0.00309 0.00309 0.00309
0.08933 0.00309 0.00309 0.00309
0.08947 0.01379 0.01345 0.01345
0.08962 0.00931 0.00931 0.00931
0.08983 0.00412 0.00412 0.00412
0.09005 -0.00071 -0.00071 -0.00071
0.09022 -0.01003 -0.01003 -0.01003
0.09038 -0.00624 -0.00624 -0.00624
0.09055 0.00343 0.00343 0.00343
0.09074 0.01656 0.01690 0.01656
0.09091 0.01586 0.01586 0.01586
0.09105 0.01069 0.01069 0.01069
0.09120 0.00447 0.00447 0.00447
0.09141 -0.00313 -0.00313 -0.00313
0.09156 -0.00002 -0.00002 -0.00002
0.09170 0.00689 0.00689 0.00689
0.09184 0.00965 0.00965 0.00965
0.09199 0.01241 0.01241 0.01241
0.09210 0.00931 0.00931 0.00931
0.09220 0.00395 0.00395 0.00395
0.09235 0.00551 0.00551 0.00551
0.09253 0.01673 0.01710 0.01673
0.09271 0.01379 0.01379 0.01379
0.09292 0.00689 0.00689 0.00689
0.09314 -0.00347 -0.00347 -0.00347
0.09328 -0.00951 -0.00951 -0.00951
0.09345 -0.00969 -0.00969 -0.00969
0.09360 -0.00002 -0.00002 -0.00002
0.09378 0.01310 0.01241 0.01241
0.09393 0.01180 0.01138 0.01138
0.09414 0.00896 0.00896 0.00896
0.09433 0.00464 0.00464 0.00464
0.09450 0.00689 0.00689 0.00689
0.09465 0.01448 0.01448 0.01448
0.09486 0.01621 0.01621 0.01621
0.09504 0.01569 0.01569 0.01569
0.09515 0.00861 0.00861 0.00861
0.09527 0.00067 0.00067 0.00067
0.09540 -0.00226 -0.00226 -0.00226
0.09554 0.00516 0.00516 0.00516
0.09573 0.00482 0.00482 0.00482
0.09587 0.00274 0.00274 0.00274
0.09601 -0.00520 -0.00520 -0.00520
0.09619 -0.01038 -0.01038 -0.01038
0.09630 -0.01383 -0.01383 -0.01383
0.09645 -0.01383 -0.01383 -0.01383
0.09662 -0.00002 -0.00002 -0.00002
0.09680 0.01621 0.01621 0.01621
0.09696 0.01780 0.01759 0.01759
0.09714 0.01621 0.01621 0.01621
0.09728 0.01207 0.01207 0.01207
0.09745 0.00343 0.00343 0.00343
0.09752 -0.00140 -0.00180 -0.00140
0.09767 0.00516 0.00516 0.00516
0.09785 0.01103 0.01103 0.01103
0.09803 0.01276 0.01207 0.01207
0.09817 0.00343 0.00343 0.00343
0.09829 -0.00554 -0.00554 -0.00554
0.09843 -0.00969 -0.01020 -0.00969
0.09857 -0.00002 -0.00002 -0.00002
0.09875 0.00965 0.00965 0.00965
0.09889 0.00516 0.00516 0.00516
0.09906 -0.00347 -0.00347 -0.00347
0.09925 -0.01210 -0.01210 -0.01210
0.09939 -0.02177 -0.02177 -0.02177
0.09949 -0.02834 -0.02764 -0.02764
0.09964 -0.01728 -0.01728 -0.01728
0.09978 -0.00624 -0.00624 -0.00624
0.10001 0.00205 0.00205 0.00205
0.10018 -0.00071 -0.00071 -0.00071
0.10033 -0.00762 -0.00800 -0.00762
0.10044 -0.01383 -0.01383 -0.01383
0.10059 -0.01901 -0.01950 -0.01901
0.10076 -0.00969 -0.00969 -0.00969
0.10090 0.00171 0.00171 0.00171
0.10108 0.00965 0.00965 0.00965
0.10119 0.00482 0.00482 0.00482
0.10133 -0.00071 -0.00071 -0.00071
0.10148 -0.00347 -0.00347 -0.00347
0.10162 -0.00071 -0.00071 -0.00071
0.10180 0.00827 0.00827 0.00827
0.10194 0.00343 0.00343 0.00343
0.10205 -0.00347 -0.00347 -0.00347
0.10227 -0.01383 -0.01383 -0.01383
0.10251 -0.02730 -0.02760 -0.02730
0.10270 -0.01383 -0.01383 -0.01383
0.10289 -0.00347 -0.00347 -0.00347
0.10306 0.00343 0.00343 0.00343
0.10320 -0.00002 -0.00002 -0.00002
0.10338 -0.01038 -0.01038 -0.01038
0.10349 -0.01728 -0.01728 -0.01728
0.10361 -0.03011 -0.02900 -0.02868
0.10378 -0.02419 -0.02419 -0.02419
0.10395 -0.01383 -0.01383 -0.01383
0.10410 -0.00727 -0.00727 -0.00727
0.10424 -0.01383 -0.01383 -0.01383
0.10443 -0.02074 -0.02074 -0.02074
0.10464 -0.02298 -0.02298 -0.02298
0.10481 -0.01556 -0.01556 -0.01556
0.10496 -0.00624 -0.00624 -0.00624
0.10515 -0.00451 -0.00451 -0.00451
0.10529 -0.00554 -0.00554 -0.00554
0.10543 -0.01038 -0.01038 -0.01038
0.10558 -0.01470 -0.01470 -0.01470
0.10572 -0.00693 -0.00693 -0.00693
0.10587 0.00274 0.00274 0.00274
0.10608 0.00879 0.00879 0.00879
0.10622 0.00689 0.00689 0.00689
0.10637 -0.00347 -0.00347 -0.00347
0.10651 -0.01383 -0.01383 -0.01383
0.10665 -0.02419 -0.02419 -0.02419
0.10683 -0.02885 -0.02920 -0.02885
0.10697 -0.02592 -0.02592 -0.02592
0.10716 -0.01170 -0.01170 -0.01170
}\iGrp

\pgfplotsset{
  base/.style={
    scale only axis,
    axis lines*=left,
    axis line style={line width=0.6pt, draw=black!80},
    every tick/.style={line width=0.6pt, draw=black!80},
    tick align=outside,
    major tick length=2.2pt, minor tick length=1.3pt,
    xmin=0.0825, xmax=0.110,
    scaled x ticks=false, scaled y ticks=false,
    xtick={0.085,0.09,0.095,0.1,0.105,0.11},
    xticklabels={\textrm{0.085},\textrm{0.090},\textrm{0.095},\textrm{0.100},\textrm{0.105},\textrm{0.110}},
    minor x tick num=1, minor y tick num=1,
    tick label style={font=\fontsize{11}{13}\selectfont},
    xticklabel style={inner sep=0pt, anchor=north, yshift=-3.3pt},
    yticklabel style={inner sep=0pt, anchor=east, xshift=-2.5pt},
    xlabel={time(s)}, ylabel={Cp},
    label style={font=\fontsize{11}{13}\selectfont, inner sep=0pt},
    xlabel style={at={(axis description cs:0.5,0)}, anchor=center, yshift=-21pt},
    no markers,
    every axis plot/.append style={line width=1.0pt, line join=round},
    legend cell align=left,
    legend style={draw=none, fill=none, inner sep=0pt, outer sep=0pt, anchor=north west,
      font=\fontsize{11}{13}\selectfont,
      nodes={inner sep=0pt, text height=7.3pt, text depth=0pt},
      /tikz/every odd column/.append style={column sep=3.2pt}},
  },
  leg/.style n args={4}{
    legend style={at={(axis description cs:#1,1)}, yshift=#2, row sep=#3},
    legend image code/.code={\draw[##1, line width=0.95pt] (0pt,4.1pt) -- (#4,4.1pt);},
  },
  ysmall/.style={
    ytick={-0.03,-0.02,-0.01,0,0.01,0.02,0.03},
    yticklabels={\textrm{−0.03},\textrm{−0.02},\textrm{−0.01},\textrm{0.00},\textrm{0.01},\textrm{0.02},\textrm{0.03}},
  },
  ybig/.style={
    ymin=-0.35, ymax=0.3,
    ytick={-0.3,-0.2,-0.1,0,0.1,0.2,0.3},
    yticklabels={\textrm{−0.3},\textrm{−0.2},\textrm{−0.1},\textrm{0.0},\textrm{0.1},\textrm{0.2},\textrm{0.3}},
  },
}

\begin{document}
\begin{tikzpicture}
\useasboundingbox (0,0) rectangle (714.6pt,378.4pt);

% (d)
\begin{axis}[base, ysmall, at={(41.0pt,236.0pt)}, anchor=south west,
  width=171.3pt, height=137.8pt, ymin=-0.025, ymax=0.035,
  ylabel style={at={(axis description cs:-0.1856,0.5)}, anchor=center},
  leg={0.8284}{-4.4pt}{6.0pt}{26pt}]
\addplot[cR] table[x=t,y=v] {\dAone};
\addplot[cG] table[x=t,y=a2] {\dGrp};
\addplot[cB] table[x=t,y=a3] {\dGrp};
\addplot[cC] table[x=t,y=a4] {\dGrp};
\addplot[cM] table[x=t,y=v] {\dAfive};
\legend{A1,A2,A3,A4,A5}
\end{axis}

% (e)
\begin{axis}[base, ybig, at={(276.3pt,236.4pt)}, anchor=south west,
  width=163.9pt, height=131.7pt,
  ylabel style={at={(axis description cs:-0.1647,0.5)}, anchor=center},
  leg={0.9085}{-3.9pt}{5.3pt}{24.4pt}]
\addplot[cR] table[x=t,y=b2] {\eGrp};
\addplot[cG] table[x=t,y=b2] {\eGrp};
\addplot[cB] table[x=t,y=b3] {\eGrp};
\addplot[cC] table[x=t,y=v] {\eBfour};
\legend{B1,B2,B3,B4}
\end{axis}

% (f)
\begin{axis}[base, ysmall, at={(518.1pt,236.9pt)}, anchor=south west,
  width=170.1pt, height=136.9pt, ymin=-0.035, ymax=0.025,
  ylabel style={at={(axis description cs:-0.1981,0.5)}, anchor=center},
  leg={0.8927}{-4.2pt}{5.9pt}{25.1pt}]
\addplot[cR] table[x=t,y=c1] {\fGrp};
\addplot[cG] table[x=t,y=c2] {\fGrp};
\addplot[cB] table[x=t,y=c3] {\fGrp};
\addplot[cC] table[x=t,y=v] {\fCfour};
\addplot[cM] table[x=t,y=v] {\fCfive};
\addplot[cN] table[x=t,y=v] {\fCsix};
\legend{C1,C2,C3,C4,C5,C6}
\end{axis}

% (g)
\begin{axis}[base, ysmall, at={(42.9pt,51.4pt)}, anchor=south west,
  width=169.9pt, height=136.8pt, ymin=-0.035, ymax=0.035,
  ylabel style={at={(axis description cs:-0.1984,0.5)}, anchor=center},
  leg={0.8284}{-8.1pt}{5.8pt}{25.3pt}]
\addplot[cR] table[x=t,y=a1] {\gGrpA};
\addplot[cG] table[x=t,y=a2] {\gGrpA};
\addplot[cB] table[x=t,y=a3] {\gGrpB};
\addplot[cC] table[x=t,y=a4] {\gGrpB};
\addplot[cM] table[x=t,y=v] {\gAfive};
\legend{A1,A2,A3,A4,A5}
\end{axis}

% (h)
\begin{axis}[base, ybig, at={(274.9pt,50.4pt)}, anchor=south west,
  width=163.8pt, height=132.5pt,
  ylabel style={at={(axis description cs:-0.1569,0.5)}, anchor=center},
  leg={0.9079}{-8.2pt}{5.4pt}{24.6pt}]
\addplot[cR] table[x=t,y=b] {\hGrp};
\addplot[cG] table[x=t,y=b2] {\hGrp};
\addplot[cB] table[x=t,y=b] {\hGrp};
\addplot[cC] table[x=t,y=b] {\hGrp};
\legend{B1,B2,B3,B4}
\end{axis}

% (i)
\begin{axis}[base, ysmall, at={(519.8pt,51.0pt)}, anchor=south west,
  width=170.4pt, height=137.2pt, ymin=-0.035, ymax=0.025,
  ylabel style={at={(axis description cs:-0.2077,0.5)}, anchor=center},
  leg={0.8857}{-5.9pt}{5.9pt}{25.8pt}]
\addplot[cR] table[x=t,y=c1] {\iGrp};
\addplot[cG] table[x=t,y=c6] {\iGrp};
\addplot[cB] table[x=t,y=c6] {\iGrp};
\addplot[cC] table[x=t,y=c6] {\iGrp};
\addplot[cM] table[x=t,y=c5] {\iGrp};
\addplot[cN] table[x=t,y=c6] {\iGrp};
\legend{C1,C2,C3,C4,C5,C6}
\end{axis}

\begin{scope}[every node/.style={font=\fontsize{14.5}{17}\selectfont, inner sep=0pt}]
\node at (114.5pt,197.8pt) {(\textbf{d})};
\node at (354.0pt,196.6pt) {(\textbf{e})};
\node at (594.6pt,199.0pt) {(\textbf{f})};
\node at (114.5pt,12.0pt) {(\textbf{g})};
\node at (354.0pt,12.0pt) {(\textbf{h})};
\node at (594.7pt,12.0pt) {(\textbf{i})};
\end{scope}
\end{tikzpicture}
\end{document}
